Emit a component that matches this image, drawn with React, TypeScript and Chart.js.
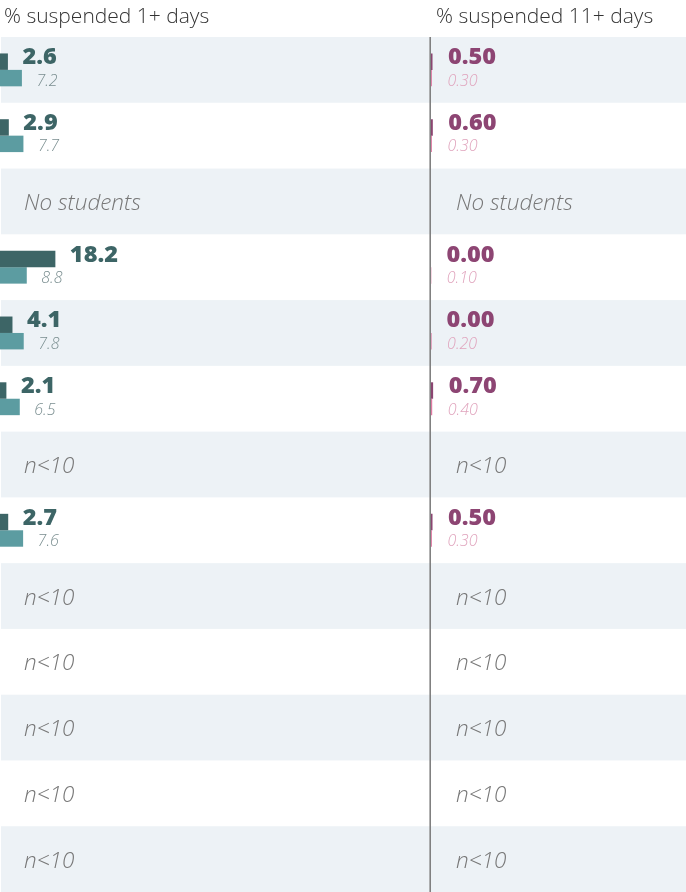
import React, { useEffect, useRef } from "react";
import { Chart, registerables } from "chart.js";

Chart.register(...registerables);

// ---- data ----
const groups = [
  "Group 1", "Group 2", "Group 3", "Group 4", "Group 5", "Group 6", "Group 7",
  "Group 8", "Group 9", "Group 10", "Group 11", "Group 12", "Group 13",
];
const suspended1Plus = [2.6, 2.9, null, 18.2, 4.1, 2.1, null, 2.7, null, null, null, null, null];
const suspended1PlusComparison = [7.2, 7.7, null, 8.8, 7.8, 6.5, null, 7.6, null, null, null, null, null];
const suspended11Plus = [0.5, 0.6, null, 0.0, 0.0, 0.7, null, 0.5, null, null, null, null, null];
const suspended11PlusComparison = [0.3, 0.3, null, 0.1, 0.2, 0.4, null, 0.3, null, null, null, null, null];
const rowNotes = [null, null, "No students", null, null, null, "n<10", null, "n<10", "n<10", "n<10", "n<10", "n<10"];
const panelTitles = ["% suspended 1+ days", "% suspended 11+ days"];

type PanelCfg = {
  title: string;
  main: (number | null)[];
  comp: (number | null)[];
  decimals: number;
  mainColor: string;
  compColor: string;
  mainLabelColor: string;
  compLabelColor: string;
  xMax: number;
  padLeft: number;
  axisColor: string | null;
  bandStart: number;
  titleX: number;
  gap: number;
  noteGap: number;
};

const BAND = "#edf2f6";

const decorPlugin = {
  id: "panelDecor",
  beforeDraw(chart: any, _args: any, opts: any) {
    const { ctx, chartArea } = chart;
    const y = chart.scales.y;
    const x = chart.scales.x;
    const step = y.getPixelForValue(1) - y.getPixelForValue(0);
    ctx.save();
    ctx.fillStyle = BAND;
    groups.forEach((_g, i) => {
      if (i % 2 === 0) {
        const c = y.getPixelForValue(i);
        ctx.fillRect(opts.bandStart, c - step / 2, chart.width - opts.bandStart, step);
      }
    });
    if (opts.axisColor) {
      const x0 = x.getPixelForValue(0);
      ctx.strokeStyle = opts.axisColor;
      ctx.lineWidth = 1.6;
      ctx.beginPath();
      ctx.moveTo(x0 - 0.8, chartArea.top);
      ctx.lineTo(x0 - 0.8, chartArea.bottom);
      ctx.stroke();
    }
    ctx.fillStyle = "#333333";
    ctx.font = '300 21px "Open Sans"';
    ctx.textBaseline = "alphabetic";
    ctx.textAlign = "left";
    ctx.fillText(opts.title, opts.titleX, 23);
    ctx.restore();
  },
  afterDatasetsDraw(chart: any, _args: any, opts: any) {
    const { ctx } = chart;
    const y = chart.scales.y;
    const x = chart.scales.x;
    const m0 = chart.getDatasetMeta(0);
    const m1 = chart.getDatasetMeta(1);
    const d0 = chart.data.datasets[0].data;
    const d1 = chart.data.datasets[1].data;
    ctx.save();
    ctx.textBaseline = "alphabetic";
    ctx.textAlign = "left";
    groups.forEach((_g, i) => {
      const c = y.getPixelForValue(i);
      const note = rowNotes[i];
      if (note) {
        ctx.font = 'italic 300 22.5px "Open Sans"';
        ctx.fillStyle = "#777777";
        ctx.fillText(note, x.getPixelForValue(0) + opts.noteGap, c + 8.5);
        return;
      }
      if (d0[i] != null) {
        const el = m0.data[i];
        ctx.font = '800 23.5px "Open Sans"';
        ctx.fillStyle = opts.mainLabelColor;
        ctx.fillText(Number(d0[i]).toFixed(opts.decimals), el.x + opts.gap, c - 5.6);
      }
      if (d1[i] != null) {
        const el = m1.data[i];
        ctx.font = 'italic 300 16px "Open Sans"';
        ctx.fillStyle = opts.compLabelColor;
        ctx.fillText(Number(d1[i]).toFixed(opts.decimals), el.x + opts.gap, c + 15.8);
      }
    });
    ctx.restore();
  },
};

function Panel({ cfg, left, width }: { cfg: PanelCfg; left: number; width: number }) {
  const ref = useRef<HTMLCanvasElement | null>(null);
  useEffect(() => {
    if (!ref.current) return;
    const chart = new Chart(ref.current, {
      type: "bar",
      data: {
        labels: groups,
        datasets: [
          {
            label: "School",
            data: cfg.main,
            backgroundColor: cfg.mainColor,
            borderWidth: 0,
            categoryPercentage: 0.5,
            barPercentage: 1.0,
          },
          {
            label: "Comparison",
            data: cfg.comp,
            backgroundColor: cfg.compColor,
            borderWidth: 0,
            categoryPercentage: 0.5,
            barPercentage: 1.0,
          },
        ],
      },
      options: {
        indexAxis: "y",
        responsive: false,
        animation: false,
        layout: { padding: { top: 37, left: cfg.padLeft, right: 0, bottom: 0 } },
        scales: {
          x: { type: "linear", min: 0, max: cfg.xMax, display: false },
          y: { type: "category", display: false },
        },
        plugins: {
          legend: { display: false },
          tooltip: { enabled: false },
          title: { display: false },
          panelDecor: {
            title: cfg.title,
            titleX: cfg.titleX,
            bandStart: cfg.bandStart,
            axisColor: cfg.axisColor,
            mainLabelColor: cfg.mainLabelColor,
            compLabelColor: cfg.compLabelColor,
            decimals: cfg.decimals,
            gap: cfg.gap,
            noteGap: cfg.noteGap,
          },
        } as any,
      },
      plugins: [decorPlugin],
    } as any);
    return () => chart.destroy();
  }, [cfg]);
  return (
    <canvas
      ref={ref}
      width={width}
      height={892}
      style={{ position: "absolute", left, top: 0, width, height: 892, display: "block" }}
    />
  );
}

const leftCfg: PanelCfg = {
  title: panelTitles[0],
  main: suspended1Plus,
  comp: suspended1PlusComparison,
  decimals: 1,
  mainColor: "#3d6566",
  compColor: "#5c9ca1",
  mainLabelColor: "#3d6566",
  compLabelColor: "#7a8e90",
  xMax: 141,
  padLeft: 0,
  axisColor: null,
  bandStart: 1,
  titleX: 4,
  gap: 14.5,
  noteGap: 24,
};

const rightCfg: PanelCfg = {
  title: panelTitles[1],
  main: suspended11Plus,
  comp: suspended11PlusComparison,
  decimals: 2,
  mainColor: "#8b4571",
  compColor: "#e07aa3",
  mainLabelColor: "#8d4573",
  compLabelColor: "#e0a4bd",
  xMax: 84,
  padLeft: 2,
  axisColor: "#808080",
  bandStart: 0,
  titleX: 7,
  gap: 15.5,
  noteGap: 25,
};

export default function App() {
  return (
    <div style={{ position: "absolute", left: 0, top: 0, width: 686, height: 892, background: "#ffffff", overflow: "hidden" }}>
      <Panel cfg={leftCfg} left={0} width={429} />
      <Panel cfg={rightCfg} left={429} width={257} />
    </div>
  );
}
